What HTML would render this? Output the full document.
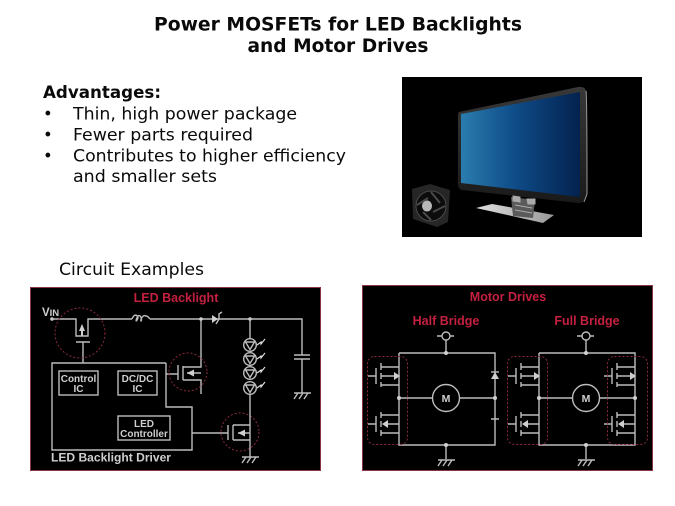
<!DOCTYPE html>
<html><head><meta charset="utf-8"><style>
html,body{margin:0;padding:0;background:#fff;width:675px;height:506px;overflow:hidden}
svg{display:block}
.t{font-family:"DejaVu Sans","Liberation Sans",sans-serif;fill:#0a0a0a}
.r{font-family:"Liberation Sans",sans-serif;font-weight:bold;fill:#c4203f;font-size:12.500px}
.w{font-family:"Liberation Sans",sans-serif;font-weight:bold;fill:#cfcfcf}
.l{fill:none;stroke:#bcbcbc;stroke-width:1.400}
.d{fill:none;stroke:#8a2a3c;stroke-width:1;stroke-dasharray:2 2}
.f{fill:#cfcfcf}
</style></head><body>
<svg width="675" height="506" viewBox="0 0 675 506" xmlns="http://www.w3.org/2000/svg">
<defs>
<linearGradient id="scr" x1="0" x2="1" y1="0" y2="0"><stop offset="0" stop-color="#2a7cae"/><stop offset=".45" stop-color="#0f4c88"/><stop offset="1" stop-color="#03224f"/></linearGradient>
<linearGradient id="base" x1="0" x2="1" y1="0" y2="0"><stop offset="0" stop-color="#dedede"/><stop offset="1" stop-color="#999"/></linearGradient>
<linearGradient id="bez" x1="0" x2="0" y1="0" y2="1"><stop offset="0" stop-color="#383838"/><stop offset="1" stop-color="#1a1a1a"/></linearGradient>
<g id="fetT">
<path class="l" d="M368 376H376M376 368V384M381 363V370M381 373V379M381 382V387M381 367H399M381 385H399M381 376H395"/>
<path class="f" d="M394 372L400 376L394 380Z"/>
</g>
<g id="fetB">
<path class="l" d="M368 424H376M376 416V432M381 412V418M381 421V427M381 430V436M381 415H399M381 433H399M386 424H399"/>
<path class="f" d="M388 420L382 424L388 428Z"/>
</g>
<g id="gnd"><path class="l" d="M-8 0H9M-4 0L-8 6M1 0L-3 6M6 0L2 6"/></g>
<g id="led"><circle class="l" r="6.300"/><path class="l" stroke-width="1.100" d="M-4.500 -3H4.500L0 4.500Z"/><path fill="none" stroke="#e4e4e4" stroke-width="1.100" d="M7 0L11 -3L11 -1L15 -6"/></g>
</defs>

<text class="t" font-weight="bold" font-size="19" x="338" y="30.500" text-anchor="middle" textLength="368" lengthAdjust="spacingAndGlyphs">Power MOSFETs for LED Backlights</text>
<text class="t" font-weight="bold" font-size="19" x="338" y="52" text-anchor="middle" textLength="181" lengthAdjust="spacingAndGlyphs">and Motor Drives</text>

<text class="t" font-weight="bold" font-size="16.500" x="43" y="98" textLength="118" lengthAdjust="spacingAndGlyphs">Advantages:</text>
<text class="t" font-size="16.500" x="43" y="119.500">•</text>
<text class="t" font-size="16.500" x="73" y="119.500" textLength="224" lengthAdjust="spacingAndGlyphs">Thin, high power package</text>
<text class="t" font-size="16.500" x="43" y="140.500">•</text>
<text class="t" font-size="16.500" x="73" y="140.500" textLength="180" lengthAdjust="spacingAndGlyphs">Fewer parts required</text>
<text class="t" font-size="16.500" x="43" y="161.500">•</text>
<text class="t" font-size="16.500" x="73" y="161.500" textLength="273" lengthAdjust="spacingAndGlyphs">Contributes to higher efficiency</text>
<text class="t" font-size="16.500" x="73" y="182" textLength="144" lengthAdjust="spacingAndGlyphs">and smaller sets</text>
<text class="t" font-size="16.500" x="59" y="275" textLength="145" lengthAdjust="spacingAndGlyphs">Circuit Examples</text>

<!-- product image -->
<rect x="402" y="77" width="240" height="160" fill="#000"/>
<path d="M459 112L578 87Q586 86 586.500 93V195Q586 203 578 203L462 190Q458 189 458 184V116Q458 113 459 112Z" fill="url(#bez)"/>
<path d="M586 91Q587 95 587 194L584 202" fill="none" stroke="#999" stroke-width="1"/>
<path d="M461 114L580 92V197L461 183Z" fill="url(#scr)"/>
<path d="M476 208L492 204L554 215L543 223Z" fill="url(#base)"/>
<path d="M511 197L535 200L533 218L513 216Z" fill="#5a5a5a"/>
<path d="M513 196L520 197V202L513 201ZM527 199L535 199V204L528 204ZM515 205L532 208M515 210L532 213" fill="#aaa" stroke="#aaa"/>
<path d="M412 189L430 184L450 190L448 222L437 227L413 219Z" fill="#262626"/>
<circle cx="431" cy="206" r="15" fill="#0c0c0c" stroke="#4a4a4a"/>
<ellipse cx="427" cy="206" rx="5" ry="5.500" fill="#b8b8b8"/>
<path d="M431 192L440 203M445 206L433 212M431 220L423 212M417 205L428 198" stroke="#4a4a4a" stroke-width="2"/>

<!-- left panel -->
<rect x="30.500" y="287.500" width="290" height="183" fill="#000" stroke="#8c3446"/>
<text class="r" x="176" y="302" text-anchor="middle">LED Backlight</text>
<text class="w" x="42" y="316" font-size="11.500">V<tspan font-size="9.500">IN</tspan></text>
<circle class="f" cx="52" cy="319" r="1.800"/>
<path class="l" d="M52 319H76V336H88V319H132M150 319H302V355M302 359V393M76 342H90M83 342V363"/>
<path class="l" d="M132 319C134 314 137 314 138 318C136 323 135 321 138 316C141 314 142 320 141 321C140 320 143 314 146 316C148 316 149 318 150 319"/>
<path class="f" d="M82 324L85 331H83V336H81V331H79Z"/>
<circle class="d" cx="80" cy="333" r="25"/>

<path class="l" d="M166 363H52V450H192V407H166V363M166 374H178M178 365V380M183 366V380M183 367H201V319M183 380H201V394M187 373H201M192 433H228M228 425V440M233 425V440M233 425H250M233 440H250M238 433H250"/>
<path class="f" d="M194 369.500L187 373L194 376.500ZM245 429.500L238 433L245 436.500Z"/>
<circle class="d" cx="188" cy="372" r="19"/>
<circle class="d" cx="240" cy="432" r="19"/>

<rect class="l" x="59" y="371" width="39" height="24"/>
<rect class="l" x="118" y="371" width="39" height="24"/>
<rect class="l" x="118" y="416" width="52" height="24"/>
<g class="w" font-size="10" text-anchor="middle">
<text x="78.500" y="382">Control</text><text x="78.500" y="392">IC</text>
<text x="137.500" y="382">DC/DC</text><text x="137.500" y="392">IC</text>
<text x="144" y="427">LED</text><text x="144" y="437">Controller</text>
</g>
<text class="w" x="51" y="461.500" font-size="11.500" textLength="120" lengthAdjust="spacingAndGlyphs">LED Backlight Driver</text>

<circle class="f" cx="201" cy="319" r="1.800"/>
<circle class="f" cx="250" cy="319" r="1.800"/>
<path class="f" d="M212 315L218 319L212 323Z"/>
<path class="l" d="M216 324L219 319L219 314L222 312"/>
<path class="l" d="M250 319V339M250 394V457"/>
<use href="#led" x="250" y="345"/><use href="#led" x="250" y="359"/><use href="#led" x="250" y="373"/><use href="#led" x="250" y="388"/>
<path class="l" stroke-width="1.600" d="M294 355H310M294 359H310"/>
<use href="#gnd" x="302" y="393"/>
<use href="#gnd" x="250" y="457"/>

<!-- right panel -->
<rect x="362.500" y="285.500" width="290" height="185" fill="#000" stroke="#8c3446"/>
<text class="r" x="508" y="301" text-anchor="middle">Motor Drives</text>
<text class="r" x="446" y="325" text-anchor="middle">Half Bridge</text>
<text class="r" x="587" y="325" text-anchor="middle">Full Bridge</text>

<!-- half bridge -->
<circle class="l" cx="446" cy="336" r="4"/>
<path class="l" d="M437 336H442M450 336H454M446 340V353M399 353H495V445H399V353M446 445V459M399 398H432.500M459.500 398H495M491 419H499"/>
<circle class="l" cx="446" cy="398" r="13.500"/>
<text class="w" x="446" y="402" font-size="10.500" text-anchor="middle">M</text>
<g class="f"><circle cx="446" cy="353" r="2"/><circle cx="446" cy="445" r="2"/><circle cx="399" cy="398" r="2"/><circle cx="495" cy="398" r="2"/></g>
<path class="f" d="M491 379L495 372L499 379Z"/>
<path class="l" d="M491 372H499"/>
<use href="#fetT"/><use href="#fetB"/>
<use href="#gnd" x="446" y="460"/>
<rect class="d" x="367.500" y="356.500" width="40" height="88" rx="7"/>

<!-- full bridge -->
<circle class="l" cx="586" cy="336" r="4"/>
<path class="l" d="M577 336H582M590 336H594M586 340V353M539 353H635V445H539V353M586 445V459M539 398H572.500M599.500 398H635"/>
<circle class="l" cx="586" cy="398" r="13.500"/>
<text class="w" x="586" y="402" font-size="10.500" text-anchor="middle">M</text>
<g class="f"><circle cx="586" cy="353" r="2"/><circle cx="586" cy="445" r="2"/><circle cx="539" cy="398" r="2"/><circle cx="635" cy="398" r="2"/></g>
<use href="#fetT" x="140"/><use href="#fetB" x="140"/>
<use href="#fetT" x="236"/><use href="#fetB" x="236"/>
<use href="#gnd" x="586" y="460"/>
<rect class="d" x="507.500" y="356.500" width="40" height="88" rx="7"/>
<rect class="d" x="607.500" y="356.500" width="40" height="88" rx="7"/>
</svg>
</body></html>
